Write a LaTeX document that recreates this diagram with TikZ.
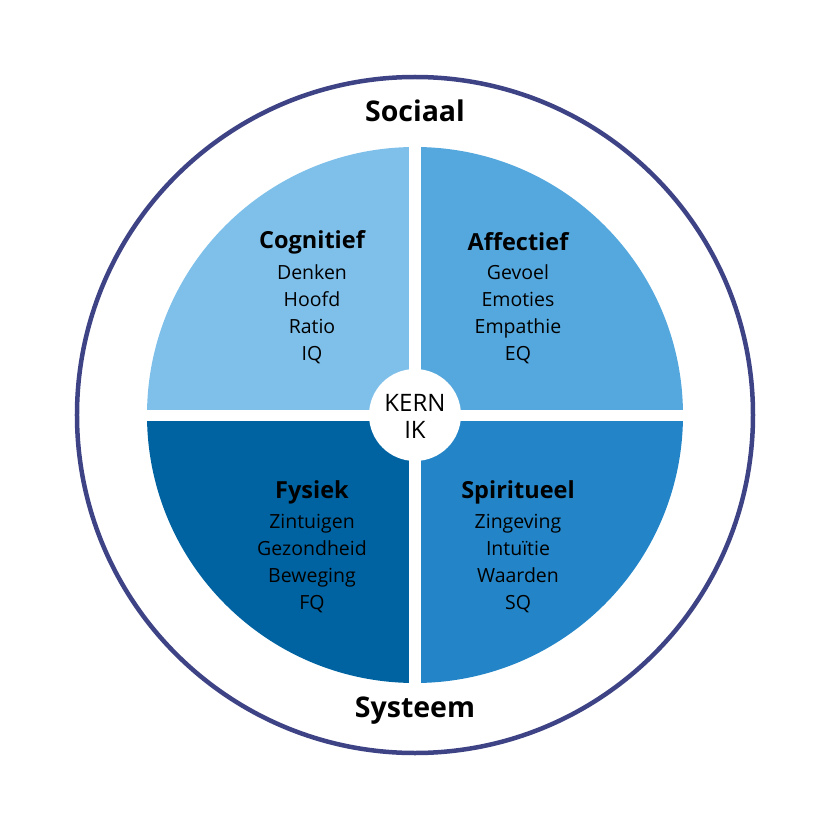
\documentclass[tikz,border=0pt]{standalone}
\usepackage{fontspec}
\setmainfont{Open Sans}
\usetikzlibrary{positioning}

\definecolor{ringblue}{HTML}{3E4385}
\definecolor{cogblue}{HTML}{7FC0EA}
\definecolor{affblue}{HTML}{55A8DD}
\definecolor{fysblue}{HTML}{0063A1}
\definecolor{spiblue}{HTML}{2385C7}

\tikzset{
  kop/.style={font=\fontsize{23.5}{27}\selectfont\bfseries},
  ring/.style={font=\fontsize{28.5}{32}\selectfont\bfseries},
  lijst/.style={font=\fontsize{19.5}{27}\selectfont, align=center, inner sep=0pt},
  kernstijl/.style={font=\fontsize{24}{27}\selectfont, align=center, inner sep=0pt},
}

\begin{document}
\begin{tikzpicture}[x=1pt,y=1pt]
\useasboundingbox (-415,-415) rectangle (415,415);
\draw[ringblue,line width=4.5pt] (0,0) circle (338);
% quadrants
\fill[cogblue] (0,0) -- (-268,0) arc (180:90:268) -- cycle;
\fill[affblue] (0,0) -- (0,268) arc (90:0:268) -- cycle;
\fill[spiblue] (0,0) -- (268,0) arc (0:-90:268) -- cycle;
\fill[fysblue] (0,0) -- (0,-268) arc (-90:-180:268) -- cycle;
\draw[white,line width=11pt] (-270,0) -- (270,0);
\draw[white,line width=11pt] (0,-270) -- (0,270);
\fill[white] (0,0) circle (46);
\node[kernstijl] (kern) at (0,-1) {KERN\\IK};

\node[ring] (sociaal) at (0,304) {Sociaal};
\node[ring] (systeem) at (0,-296) {Systeem};

\node[kop] (cog) at (-103,173) {Cognitief};
\node[lijst] (coglijst) at (-103,100.5) {Denken\\Hoofd\\Ratio\\IQ};
\node[kop] (aff) at (103,173) {Affectief};
\node[lijst] (afflijst) at (103,100.5) {Gevoel\\Emoties\\Empathie\\EQ};
\node[kop] (fys) at (-103,-77) {Fysiek};
\node[lijst] (fyslijst) at (-103,-148.5) {Zintuigen\\Gezondheid\\Beweging\\FQ};
\node[kop] (spi) at (103,-77) {Spiritueel};
\node[lijst] (spilijst) at (103,-148.5) {Zingeving\\Intuïtie\\Waarden\\SQ};
\end{tikzpicture}
\end{document}
